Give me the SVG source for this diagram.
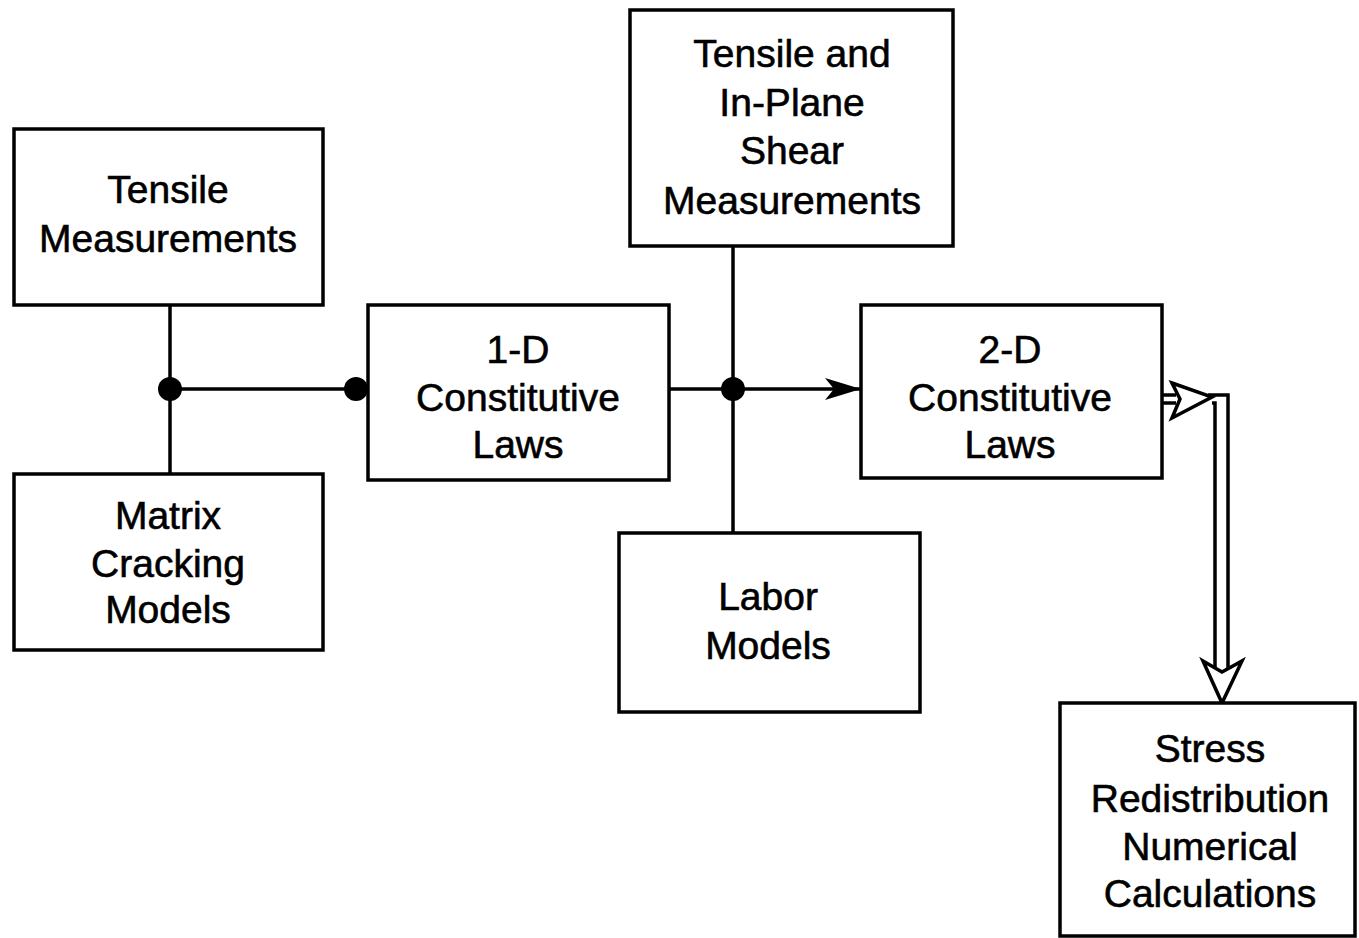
<svg xmlns="http://www.w3.org/2000/svg" width="1359" height="938" viewBox="0 0 1359 938">
  <style>
    .box { fill: #fff; stroke: #000; stroke-width: 3.5; }
    .lbl { font-family: "Liberation Sans", Arial, sans-serif; font-size: 39px; fill: #000; stroke: #000; stroke-width: 0.6; text-anchor: middle; }
    .ln { fill: none; stroke: #000; stroke-width: 3.5; }
    .dot { fill: #000; }
    .hollow { fill: #fff; stroke: #000; stroke-width: 3.5; stroke-linejoin: miter; }
  </style>
  <defs>
    <marker id="arr" viewBox="0 0 36 22" refX="36" refY="11" markerWidth="36" markerHeight="22" markerUnits="userSpaceOnUse" orient="auto">
      <path d="M0,0 L36,11 L0,22 L9,11 Z" fill="#000"/>
    </marker>
  </defs>
  <rect width="1359" height="938" fill="#fff"/>

  <!-- connectors -->
  <g id="connectors">
    <line class="ln" x1="170" y1="305" x2="170" y2="474"/>
    <line class="ln" x1="170" y1="389" x2="368" y2="389"/>
    <circle class="dot" cx="170" cy="389" r="12"/>
    <circle class="dot" cx="356" cy="389" r="12"/>
    <line class="ln" x1="733" y1="246" x2="733" y2="533"/>
    <line class="ln" x1="669" y1="389" x2="861" y2="389" marker-end="url(#arr)"/>
    <circle class="dot" cx="733" cy="389" r="12"/>
    <!-- hollow double-line arrow to stress calculations -->
    <line class="ln" x1="1162" y1="395" x2="1176" y2="395"/>
    <line class="ln" x1="1162" y1="403" x2="1176" y2="403"/>
    <path class="hollow" d="M1172,383 L1212,397 L1172,418 L1180,399 Z"/>
    <path class="ln" d="M1208,395 L1228,395 L1228,668"/>
    <path class="ln" d="M1212,403 L1215,403 L1215,668"/>
    <path class="hollow" d="M1203,661 L1222,703 L1242,661 L1222,672 Z"/>
  </g>

  <g id="tensile-measurements">
    <rect class="box" x="14" y="129" width="309" height="176"/>
    <text class="lbl" x="168" y="203">Tensile</text>
    <text class="lbl" x="168" y="252">Measurements</text>
  </g>

  <g id="matrix-cracking">
    <rect class="box" x="14" y="474" width="309" height="176"/>
    <text class="lbl" x="168" y="529">Matrix</text>
    <text class="lbl" x="168" y="577">Cracking</text>
    <text class="lbl" x="168" y="623">Models</text>
  </g>

  <g id="laws-1d">
    <rect class="box" x="368" y="305" width="301" height="175"/>
    <text class="lbl" x="518" y="363">1-D</text>
    <text class="lbl" x="518" y="411">Constitutive</text>
    <text class="lbl" x="518" y="458">Laws</text>
  </g>

  <g id="tensile-shear">
    <rect class="box" x="630" y="10" width="323" height="236"/>
    <text class="lbl" x="792" y="67">Tensile and</text>
    <text class="lbl" x="792" y="116">In-Plane</text>
    <text class="lbl" x="792" y="164">Shear</text>
    <text class="lbl" x="792" y="214">Measurements</text>
  </g>

  <g id="labor-models">
    <rect class="box" x="619" y="533" width="301" height="179"/>
    <text class="lbl" x="768" y="610">Labor</text>
    <text class="lbl" x="768" y="659">Models</text>
  </g>

  <g id="laws-2d">
    <rect class="box" x="861" y="305" width="301" height="173"/>
    <text class="lbl" x="1010" y="363">2-D</text>
    <text class="lbl" x="1010" y="411">Constitutive</text>
    <text class="lbl" x="1010" y="458">Laws</text>
  </g>

  <g id="stress-redistribution">
    <rect class="box" x="1060" y="703" width="295" height="233"/>
    <text class="lbl" x="1210" y="762">Stress</text>
    <text class="lbl" x="1210" y="812">Redistribution</text>
    <text class="lbl" x="1210" y="860">Numerical</text>
    <text class="lbl" x="1210" y="907">Calculations</text>
  </g>
</svg>
